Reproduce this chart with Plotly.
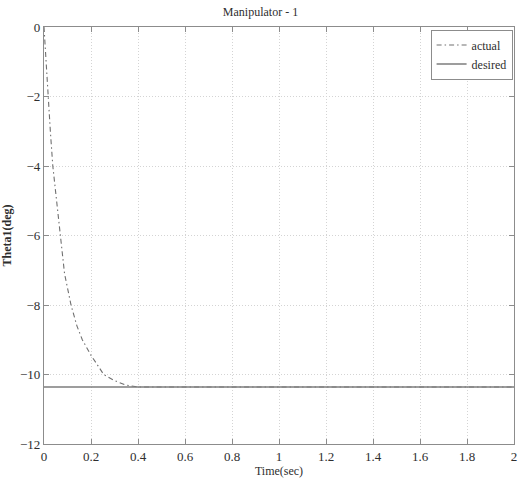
import plotly.graph_objects as go

# Joint angle response of manipulator 1
time_actual = [0, 0.008, 0.018, 0.027, 0.0375, 0.053, 0.07, 0.0875, 0.115, 0.14,
               0.163, 0.2, 0.225, 0.254, 0.296, 0.345, 0.4, 0.5, 1.0, 1.5, 2.0]
theta_actual = [0, -0.95, -2.0, -3.0, -4.0, -5.0, -6.0, -7.1, -8.0, -8.6,
                -9.0, -9.45, -9.7, -10.0, -10.16, -10.3, -10.36, -10.36,
                -10.36, -10.36, -10.36]
time_desired = [0, 2.0]
theta_desired = [-10.36, -10.36]

x_ticks = [0, 0.2, 0.4, 0.6, 0.8, 1, 1.2, 1.4, 1.6, 1.8, 2]
x_tick_text = ["0", "0.2", "0.4", "0.6", "0.8", "1", "1.2", "1.4", "1.6", "1.8", "2"]
y_ticks = [0, -2, -4, -6, -8, -10, -12]

font_family = "'Liberation Serif', 'Times New Roman', serif"
text_color = "#2e2e2e"
axis_color = "#8c8c8c"

fig = go.Figure()
fig.add_trace(go.Scatter(
    x=time_actual, y=theta_actual, mode="lines", name="actual",
    line=dict(color="#707070", width=1.1, dash="5px,3px,1.5px,3px"),
))
fig.add_trace(go.Scatter(
    x=time_desired, y=theta_desired, mode="lines", name="desired",
    line=dict(color="#7c7c7c", width=1.3),
))

axis_common = dict(
    showline=True, linecolor=axis_color, linewidth=1.2, mirror="ticks",
    ticks="inside", ticklen=5, tickcolor=axis_color,
    showgrid=True, gridcolor="#d4d4d4", griddash="1px,2px", gridwidth=1,
    zeroline=False,
    tickfont=dict(family=font_family, size=13, color=text_color),
)

fig.update_layout(
    width=521, height=479,
    margin=dict(l=44, r=4, t=27, b=35),
    paper_bgcolor="white", plot_bgcolor="white",
    title=dict(text="Manipulator - 1", x=0.5, xanchor="center", y=0.985, yanchor="top",
               font=dict(family=font_family, size=12, color=text_color)),
    xaxis=dict(range=[0, 2], tickvals=x_ticks, ticktext=x_tick_text,
               title=dict(text="Time(sec)", standoff=1,
                          font=dict(family=font_family, size=12, color=text_color)),
               **axis_common),
    yaxis=dict(range=[-12, 0], tickvals=y_ticks,
               title=dict(text="<b>Theta1(deg)</b>", standoff=6,
                          font=dict(family=font_family, size=12, color=text_color)),
               **axis_common),
    legend=dict(x=0.997, y=0.994, xanchor="right", yanchor="top",
                bgcolor="white", bordercolor=axis_color, borderwidth=1,
                font=dict(family=font_family, size=12, color=text_color),
                tracegroupgap=0, itemwidth=30),
    showlegend=True,
)

fig.write_html("out.html")
